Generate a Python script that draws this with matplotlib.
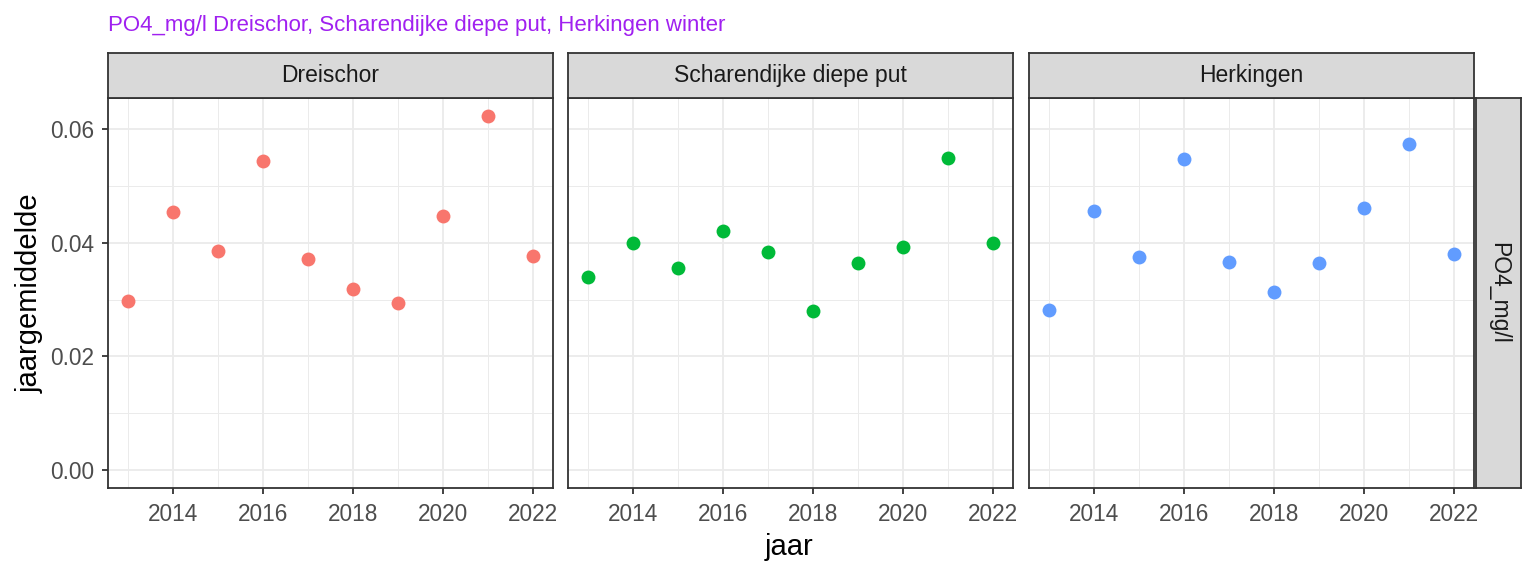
import numpy as np
import matplotlib.pyplot as plt
from matplotlib.ticker import MultipleLocator

plt.rcParams['font.family'] = ['Liberation Sans', 'DejaVu Sans']

# data
jaren = [2013, 2014, 2015, 2016, 2017, 2018, 2019, 2020, 2021, 2022]
locaties = ["Dreischor", "Scharendijke diepe put", "Herkingen"]
dreischor = [0.0298, 0.0454, 0.0385, 0.0544, 0.0371, 0.0319, 0.0294, 0.0446, 0.0623, 0.0377]
scharendijke = [0.0340, 0.0399, 0.0356, 0.0420, 0.0384, 0.0280, 0.0365, 0.0392, 0.0549, 0.0399]
herkingen = [0.0282, 0.0456, 0.0375, 0.0547, 0.0366, 0.0313, 0.0364, 0.0461, 0.0573, 0.0380]
kleuren = ["#F8766D", "#00BA38", "#619CFF"]
reeksen = [dreischor, scharendijke, herkingen]

W, H = 1536, 576
fig = plt.figure(figsize=(W / 100, H / 100), dpi=100)

# pixel layout of the panels
lefts = [108, 568, 1029]
pw, top, bottom = 445, 98, 488
strip_h = 45

ymax = max(max(r) for r in reeksen)
ylim = (0 - 0.05 * ymax, ymax * 1.05)
xlim = (min(jaren) - 0.05 * 9, max(jaren) + 0.05 * 9)

def fx(px):
    return px / W

def fy(py):
    return 1 - py / H

def rand(ax):
    for sp in ax.spines.values():
        sp.set_color('#333333')
        sp.set_linewidth(1.3)

for i, (naam, vals, kleur) in enumerate(zip(locaties, reeksen, kleuren)):
    ax = fig.add_axes([fx(lefts[i]), fy(bottom), pw / W, (bottom - top) / H])
    ax.scatter(jaren, vals, s=100, color=kleur, zorder=3, linewidths=0)
    ax.set_xlim(xlim)
    ax.set_ylim(ylim)
    ax.xaxis.set_major_locator(MultipleLocator(2))
    ax.xaxis.set_minor_locator(MultipleLocator(1))
    ax.yaxis.set_major_locator(MultipleLocator(0.02))
    ax.yaxis.set_minor_locator(MultipleLocator(0.01))
    ax.grid(which='major', color='#EBEBEB', linewidth=1.3)
    ax.grid(which='minor', color='#EBEBEB', linewidth=0.7)
    ax.set_axisbelow(True)
    rand(ax)
    ax.tick_params(which='major', length=4.5, width=1.3, color='#333333',
                   labelsize=16.3, labelcolor='#4D4D4D')
    ax.tick_params(axis='x', pad=6)
    ax.tick_params(axis='y', pad=5.5)
    ax.tick_params(which='minor', length=0)
    if i == 0:
        ax.yaxis.set_major_formatter(plt.FuncFormatter(lambda v, p: f"{v:.2f}"))
    else:
        ax.tick_params(axis='y', labelleft=False, length=0)

    # strip on top
    sax = fig.add_axes([fx(lefts[i]), fy(top), pw / W, strip_h / H])
    sax.set_facecolor('#D9D9D9')
    sax.set_xticks([])
    sax.set_yticks([])
    rand(sax)
    sax.text(0.5, 0.5, naam, ha='center', va='center', fontsize=16.5,
             color='#1A1A1A', transform=sax.transAxes)

# strip on the right
rax = fig.add_axes([fx(1476), fy(bottom), 45 / W, (bottom - top) / H])
rax.set_facecolor('#D9D9D9')
rax.set_xticks([])
rax.set_yticks([])
rand(rax)
rax.text(0.5, 0.5, "PO4_mg/l", ha='center', va='center', rotation=-90,
         fontsize=16.5, color='#1A1A1A', transform=rax.transAxes)

fig.text(fx(108), fy(25), "PO4_mg/l Dreischor, Scharendijke diepe put, Herkingen winter",
         ha='left', va='center', fontsize=16, color='#A020F0')
fig.text(fx(789), fy(547), "jaar", ha='center', va='center', fontsize=21, color='black')
fig.text(fx(30), fy(293), "jaargemiddelde", ha='center', va='center', rotation=90,
         fontsize=21, color='black')

fig.savefig("out.png", dpi=100)
